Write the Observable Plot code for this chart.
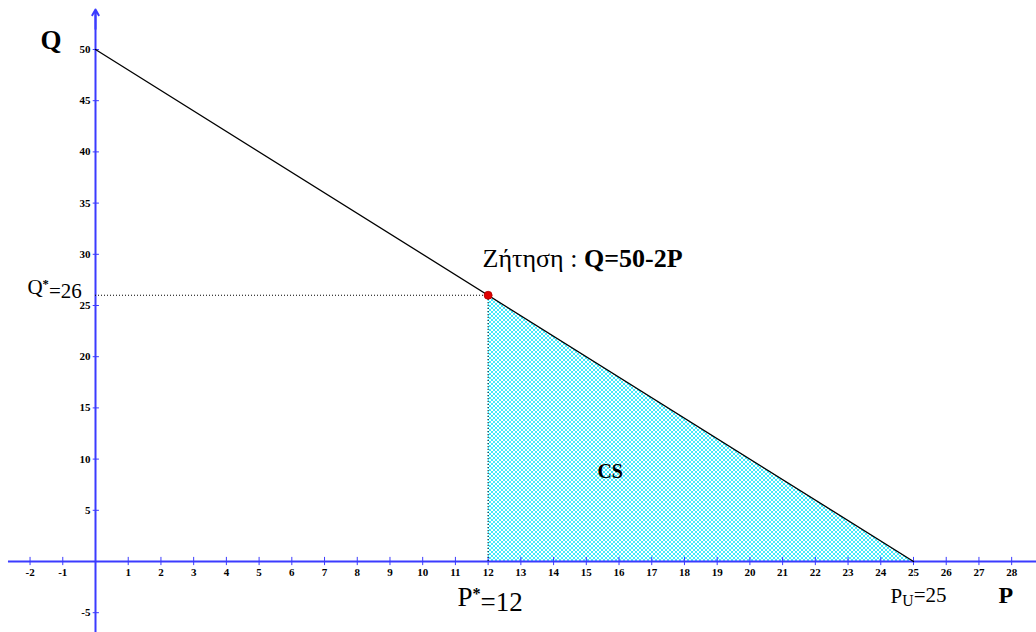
<!DOCTYPE html>
<html>
<head>
<meta charset="utf-8">
<script src="https://cdn.jsdelivr.net/npm/d3@7"></script>
<script src="https://cdn.jsdelivr.net/npm/@observablehq/plot@0.6"></script>
<style>
  html, body { margin: 0; padding: 0; background: #fff; }
  svg { display: block; }
  svg text, svg tspan { font-family: "Liberation Serif", "Times New Roman", serif !important; }
</style>
</head>
<body>
<div id="chart"></div>
<script>
// Demand Q = 50 - 2P
const demandP = [0, 25];
const demandQ = [50, 0];
const eqP = 12;
const eqQ = 26;
const xTicks = [-2, -1, 1, 2, 3, 4, 5, 6, 7, 8, 9, 10, 11, 12, 13, 14, 15, 16, 17, 18, 19, 20, 21, 22, 23, 24, 25, 26, 27, 28];
const yTicks = [-5, 5, 10, 15, 20, 25, 30, 35, 40, 45, 50];
// consumer surplus region, P from 12 to 25
const csP = [12, 25];
const csQ = [26, 0];

const demand = demandP.map((p, i) => ({p, q: demandQ[i]}));
const cs = csP.map((p, i) => ({p, q: csQ[i]}));

const boldLabels = [
  {key: "Q", x: -1.68, y: 50.9, size: 27},
  {key: "P", x: 27.6, y: -3.3, size: 24},
  {key: "CS", x: 15.34, y: 8.8, size: 20}
];
const normalLabels = [
  {key: "Qstar", x: -2.08, y: 26.8, size: 21},
  {key: "Pstar", x: 11.06, y: -3.5, size: 27},
  {key: "PU", x: 24.3, y: -3.4, size: 21},
  {key: "demand", x: 11.83, y: 29.6, size: 26}
];
const annText = {Q: "Q", P: "P", Qstar: "Q*=26", Pstar: "P*=12", PU: "PU=25", demand: "Ζήτηση : Q=50-2P", CS: "CS"};

const blue = "#3b3bff";
const font = "Liberation Serif, Times New Roman, serif";

const plot = Plot.plot({
  width: 1036,
  height: 632,
  margin: 0,
  style: {fontFamily: font, background: "#fff"},
  x: {domain: [0, 25], range: [95, 913], axis: null},
  y: {domain: [0, 50], range: [561, 49], axis: null},
  marks: [
    // CS area
    Plot.areaY(cs, {x: "p", y1: 0, y2: "q", fill: "url(#cshatch)", fillOpacity: 1}),
    // axes
    Plot.ruleY([0], {x1: -2.66, x2: 28.76, stroke: blue, strokeWidth: 2}),
    Plot.ruleX([0], {y1: -6.93, y2: 53.5, stroke: blue, strokeWidth: 2}),
    Plot.arrow([{x1: 0, y1: 52, x2: 0, y2: 53.9}], {x1: "x1", y1: "y1", x2: "x2", y2: "y2", stroke: blue, strokeWidth: 2, headLength: 9}),
    Plot.ruleX(xTicks, {y1: -0.4, y2: 0.4, stroke: blue, strokeWidth: 1}),
    Plot.ruleY(yTicks, {x1: -0.07, x2: 0.12, stroke: blue, strokeWidth: 1}),
    Plot.text(xTicks, {x: d => d, y: 0, dy: 11, text: d => String(d), fontSize: 11, fontWeight: "bold", fontFamily: font, fill: "#000"}),
    Plot.text(yTicks, {x: 0, y: d => d, dx: -5, textAnchor: "end", text: d => String(d), fontSize: 11, fontWeight: "bold", fontFamily: font, fill: "#000"}),
    // dotted guides
    Plot.ruleY([eqQ], {x1: 0, x2: eqP, stroke: "#000", strokeWidth: 1, strokeDasharray: "1,2"}),
    Plot.ruleX([eqP], {y1: 0, y2: eqQ, stroke: "#000", strokeWidth: 1, strokeDasharray: "1,2"}),
    // demand line
    Plot.line(demand, {x: "p", y: "q", stroke: "#000", strokeWidth: 1.3}),
    // equilibrium point
    Plot.dot([{p: eqP, q: eqQ}], {x: "p", y: "q", r: 4, fill: "#e00000", stroke: "#b00000", strokeWidth: 0.8}),
    // annotations
    Plot.text(boldLabels, {x: "x", y: "y", text: d => annText[d.key], fontSize: d => d.size, fontWeight: "bold", fontFamily: font, textAnchor: "start", fill: "#000"}),
    Plot.text(normalLabels, {x: "x", y: "y", text: d => annText[d.key], fontSize: d => d.size, fontWeight: "normal", fontFamily: font, textAnchor: "start", fill: "#000", className: "ann"})
  ]
});

// hatch pattern definition
const svg = d3.select(plot);
const defs = svg.insert("defs", ":first-child");
const pat = defs.append("pattern").attr("id", "cshatch").attr("patternUnits", "userSpaceOnUse").attr("width", 4).attr("height", 4);
pat.append("rect").attr("width", 4).attr("height", 4).attr("fill", "#fff");
pat.append("path").attr("d", "M0,0 L4,4 M4,0 L0,4 M-1,3 L1,5 M3,-1 L5,1 M3,5 L5,3 M-1,1 L1,-1").attr("stroke", "#2ee6fa").attr("stroke-width", 0.9);

// rich text for annotations (superscripts / subscripts / bold parts)
svg.selectAll("g.ann text").each(function() {
  const t = d3.select(this);
  const s = t.text();
  if (s === "Q*=26") {
    t.text(null);
    t.append("tspan").text("Q");
    t.append("tspan").attr("dy", "-0.45em").attr("font-size", "0.6em").attr("font-weight", "bold").text("*");
    t.append("tspan").attr("dy", "0.45em").text("=26");
  } else if (s === "P*=12") {
    t.text(null);
    t.append("tspan").text("P");
    t.append("tspan").attr("dy", "-0.45em").attr("font-size", "0.6em").attr("font-weight", "bold").text("*");
    t.append("tspan").attr("dy", "0.45em").text("=12");
  } else if (s === "PU=25") {
    t.text(null);
    t.append("tspan").text("P");
    t.append("tspan").attr("dy", "0.2em").attr("font-size", "0.75em").text("U");
    t.append("tspan").attr("dy", "-0.2em").text("=25");
  } else if (s === "Ζήτηση : Q=50-2P") {
    t.text(null);
    t.append("tspan").text("Ζήτηση : ");
    t.append("tspan").attr("font-weight", "bold").text("Q=50-2P");
  }
});

document.getElementById("chart").appendChild(plot);
</script>
</body>
</html>
